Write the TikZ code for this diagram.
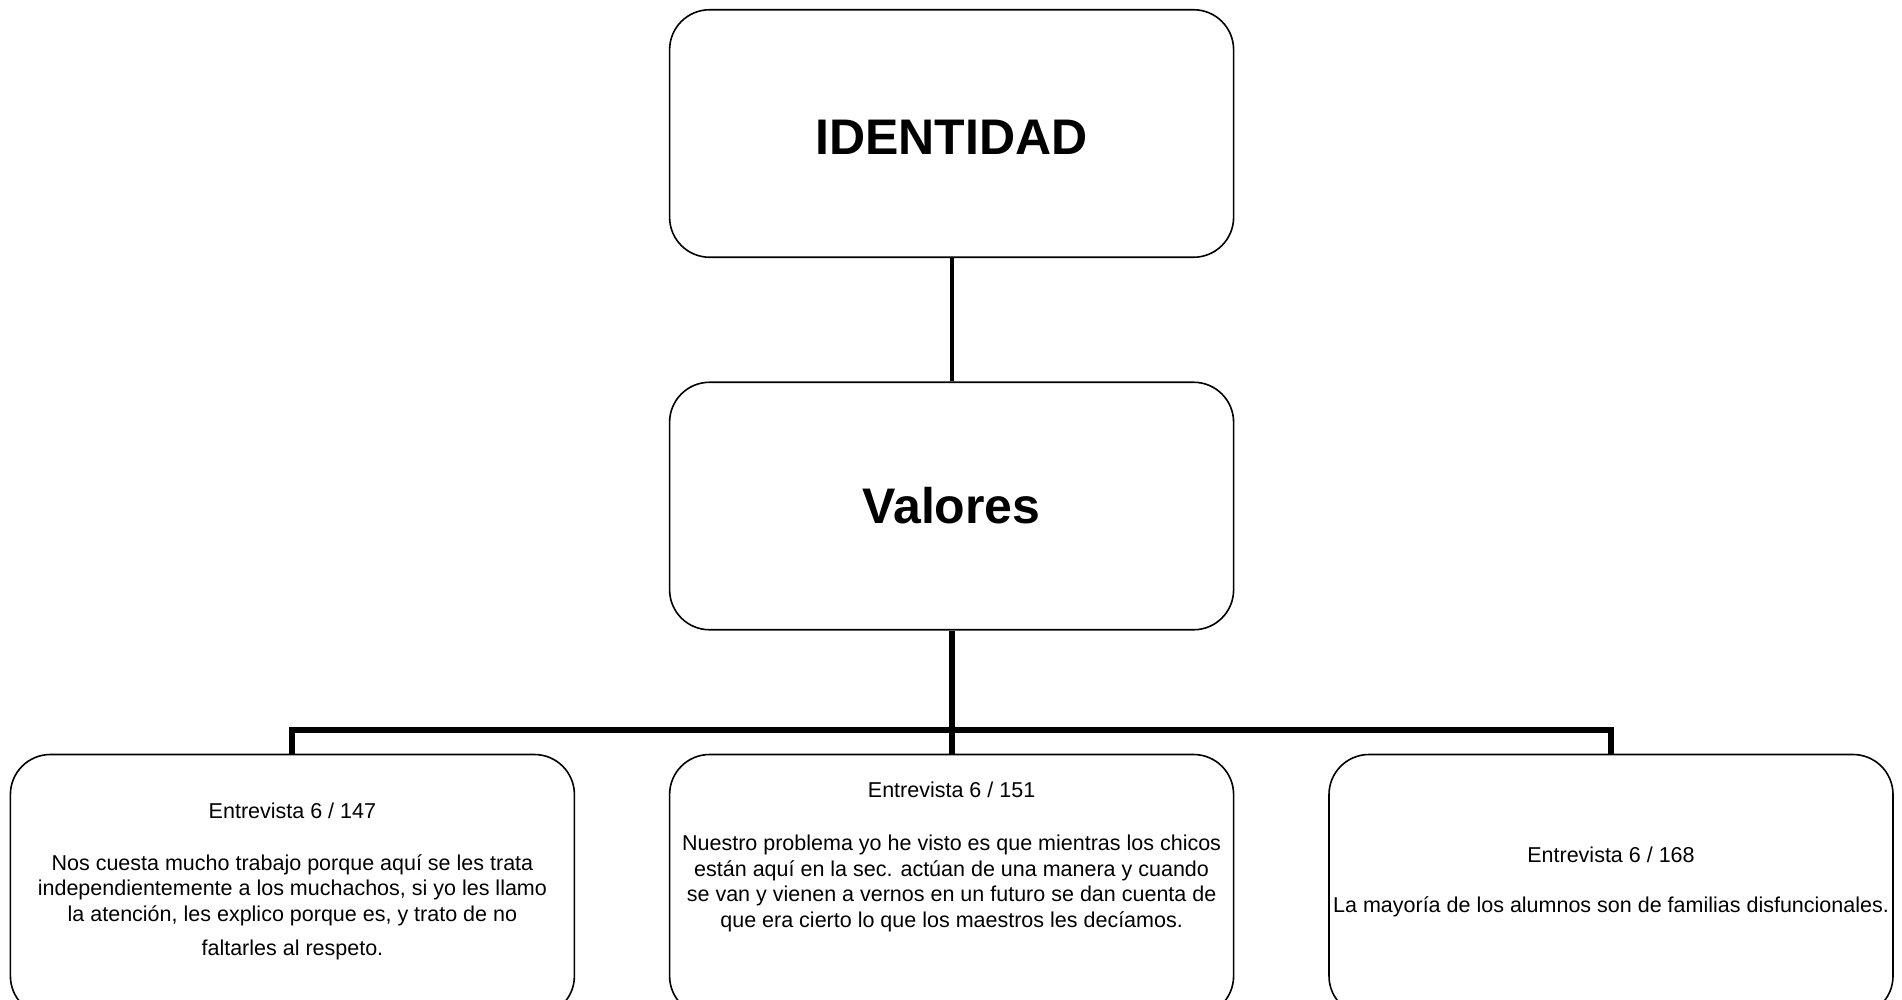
\documentclass[tikz,border=0pt]{standalone}
\usepackage{fontspec}
\setmainfont{Liberation Sans}
\begin{document}
\begin{tikzpicture}[x=1pt,y=-1pt,
  box/.style={draw,line width=1.6pt,rounded corners=40pt,minimum width=564pt,inner sep=0pt},
  topbox/.style={box,minimum height=247.5pt,font=\fontsize{50}{60}\selectfont\bfseries},
  lowbox/.style={box,minimum height=261.5pt},
  txt/.style={font=\fontsize{21.5}{25.4}\selectfont,align=center,inner sep=0pt,anchor=base},
  thinconn/.style={line width=4pt},
  thickconn/.style={line width=6pt}]
\useasboundingbox (0,0) rectangle (1902,999);
\fill[white] (0,0) rectangle (1902,999);
% boxes
\node[topbox,text height=41pt,text depth=0pt] (ident) at (951.6,133.5) {IDENTIDAD};
\node[topbox] (val) at (951.6,506) {Valores};
\node[lowbox] (left) at (292.4,885.25) {};
\node[lowbox] (mid) at (951.6,885.25) {};
\node[lowbox] (right) at (1611,885.25) {};
% connectors
\coordinate (bus) at (951.6,730);
\draw[thinconn] (ident.south) -- (val.north);
\draw[thickconn] (val.south) -- (mid.north);
\draw[thickconn] (left.north) |- (bus) -| (right.north);
% texts (base anchor = baseline of the last line)
\node[txt] (t1) at (292.4,818) {Entrevista 6 / 147};
\node[txt] (b1) at (292.4,955) {Nos cuesta mucho trabajo porque aquí se les trata\\independientemente a los muchachos, si yo les llamo\\la atención, les explico porque es, y trato de no\\[8.5pt]faltarles al respeto.};
\node[txt] (t2) at (951.6,797.5) {Entrevista 6 / 151};
\node[txt] (b2) at (951.6,927) {Nuestro problema yo he visto es que mientras los chicos\\están aquí en la sec. actúan de una manera y cuando\\se van y vienen a vernos en un futuro se dan cuenta de\\que era cierto lo que los maestros les decíamos.};
\node[txt] (t3) at (1611,862) {Entrevista 6 / 168};
\node[txt] (b3) at (1611,912) {La mayoría de los alumnos son de familias disfuncionales.};
\end{tikzpicture}
\end{document}
